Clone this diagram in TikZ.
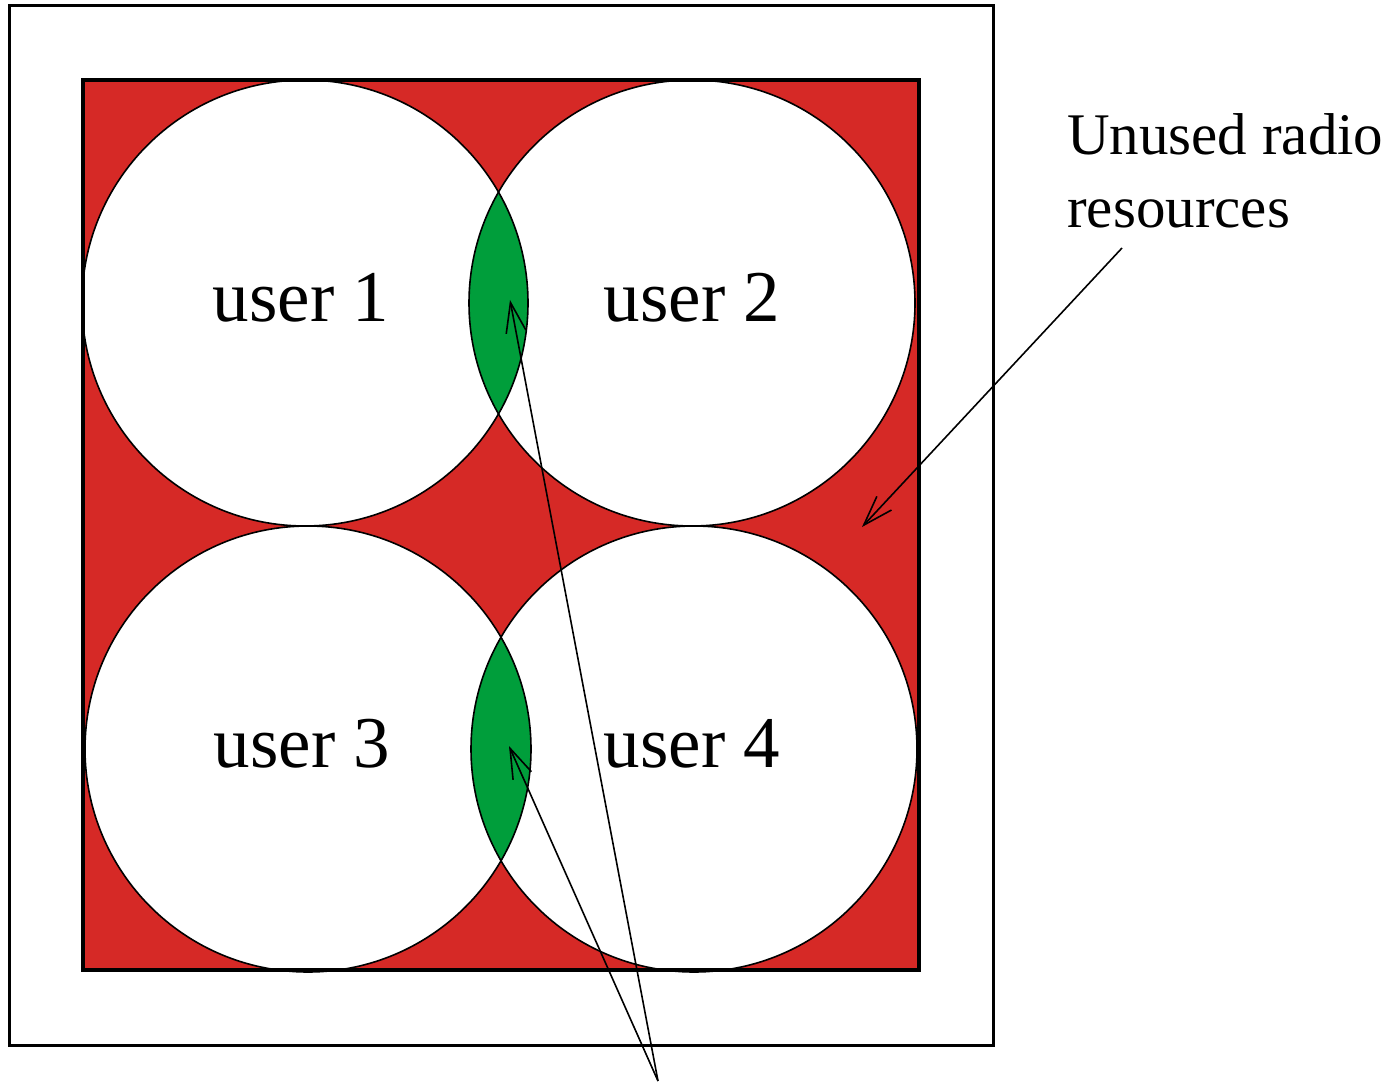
\documentclass[tikz,border=0pt]{standalone}
\usepackage{fontspec}
\setmainfont{Liberation Serif}
\usetikzlibrary{arrows.meta}
\definecolor{unusedred}{RGB}{214,41,38}
\definecolor{overlapgreen}{RGB}{0,158,59}
\tikzset{
  userarea/.style={draw=black, line width=1.6pt},
  userlabel/.style={inner sep=0pt, anchor=base, font=\fontsize{73}{80}\selectfont},
  notelabel/.style={inner sep=0pt, anchor=base west, font=\fontsize{59}{70}\selectfont},
  pointer/.style={draw=black, line width=1.6pt, -{Straight Barb[length=30pt,width=20pt,line width=1.6pt]}}
}
\begin{document}
\begin{tikzpicture}[x=1pt, y=-1pt]
  \useasboundingbox (0,0) rectangle (1395,1083);
  % radio resource block
  \fill[unusedred] (83,80) rectangle (919,970);
  % coverage of each user
  \fill[white] (305,303) circle[radius=223];
  \fill[white] (692,303) circle[radius=223];
  \fill[white] (308,749) circle[radius=223];
  \fill[white] (694,749) circle[radius=223];
  % shared resources between neighbouring users
  \begin{scope}
    \clip (305,303) circle[radius=223];
    \fill[overlapgreen] (692,303) circle[radius=223];
  \end{scope}
  \begin{scope}
    \clip (308,749) circle[radius=223];
    \fill[overlapgreen] (694,749) circle[radius=223];
  \end{scope}
  \draw[userarea] (305,303) circle[radius=223];
  \draw[userarea] (692,303) circle[radius=223];
  \draw[userarea] (308,749) circle[radius=223];
  \draw[userarea] (694,749) circle[radius=223];
  % frames
  \draw[line width=4pt] (83,80) rectangle (919,970);
  \draw[line width=3pt] (9,6) rectangle (993,1045);
  % labels
  \node[userlabel] (u1) at (301,322) {user 1};
  \node[userlabel] (u2) at (692,322) {user 2};
  \node[userlabel] (u3) at (302,767) {user 3};
  \node[userlabel] (u4) at (692,767) {user 4};
  \node[notelabel] (unused1) at (1067,155) {Unused radio};
  \node[notelabel] (unused2) at (1067,228) {resources};
  % pointers
  \coordinate (unusedfrom) at (1122,248);
  \coordinate (unusedto) at (862,527);
  \coordinate (sharedfrom) at (658,1081);
  \coordinate (sharedtop) at (510,300);
  \coordinate (sharedbottom) at (509,746);
  \draw[pointer] (unusedfrom) -- (unusedto);
  \draw[pointer] (sharedfrom) -- (sharedtop);
  \draw[pointer] (sharedfrom) -- (sharedbottom);
\end{tikzpicture}
\end{document}
